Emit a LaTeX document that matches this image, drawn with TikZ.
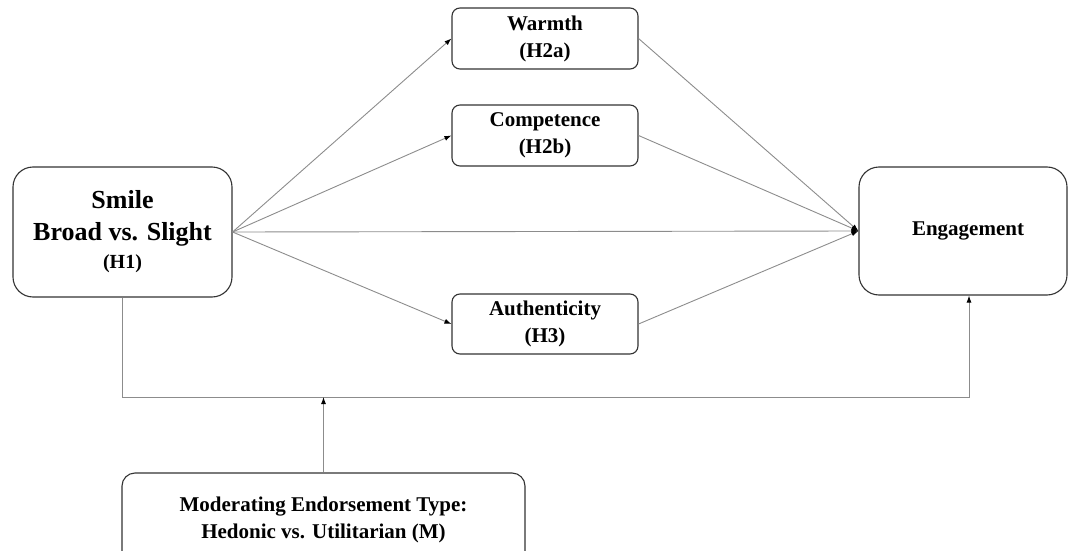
\documentclass[tikz,border=0pt]{standalone}
\usepackage{fontspec}
\setmainfont{Liberation Serif}
\usetikzlibrary{arrows.meta}
\begin{document}
\begin{tikzpicture}[x=1pt,y=-1pt,
  box/.style={draw=black!80,line width=1.1pt,rounded corners=8pt,align=center,
    font=\bfseries\fontsize{21}{27}\selectfont,inner sep=0pt},
  conn/.style={draw=black!45,line width=0.9pt,-{Latex[length=7pt,width=5pt,color=black]}},
  line/.style={draw=black!45,line width=0.9pt}]
\useasboundingbox (0,0) rectangle (1068,551);
\clip (0,0) rectangle (1068,551);
\node[box,rounded corners=20pt,minimum width=219pt,minimum height=130pt,
  font=\bfseries\fontsize{26}{32}\selectfont] (smile) at (122.5,232)
  {Smile\\Broad vs. Slight\\[-4pt]{\fontsize{20}{24}\selectfont (H1)}};
\node[box,rounded corners=20pt,minimum width=208pt,minimum height=128pt] (eng) at (963,231)
  {\hspace*{10pt}Engagement};
\node[box,minimum width=186pt,minimum height=61pt] (warmth) at (545,38.5) {Warmth\\(H2a)};
\node[box,minimum width=186pt,minimum height=61pt] (comp) at (545,135.5) {Competence\\(H2b)};
\node[box,minimum width=186pt,minimum height=60pt] (auth) at (545,324) {Authenticity\\(H3)};
\node[box,rounded corners=13pt,minimum width=403pt,minimum height=94pt] (mod) at (323.5,520)
  {Moderating Endorsement Type:\\Hedonic vs. Utilitarian (M)};
\draw[conn] (smile.east) -- (warmth.west);
\draw[conn] (smile.east) -- (comp.west);
\draw[conn] (smile.east) -- (auth.west);
\draw[conn] (smile.east) -- (eng.west);
\draw[conn] (warmth.east) -- (eng.west);
\draw[conn] (comp.east) -- (eng.west);
\draw[conn] (auth.east) -- (eng.west);
\coordinate (ml) at (122.5,397);
\coordinate (mr) at (969,397);
\coordinate (mm) at (323.5,397);
\draw[conn] (smile.south) -- (ml) -- (mr) -- (mr |- eng.south);
\draw[conn] (mod.north) -- (mm);
\end{tikzpicture}
\end{document}
